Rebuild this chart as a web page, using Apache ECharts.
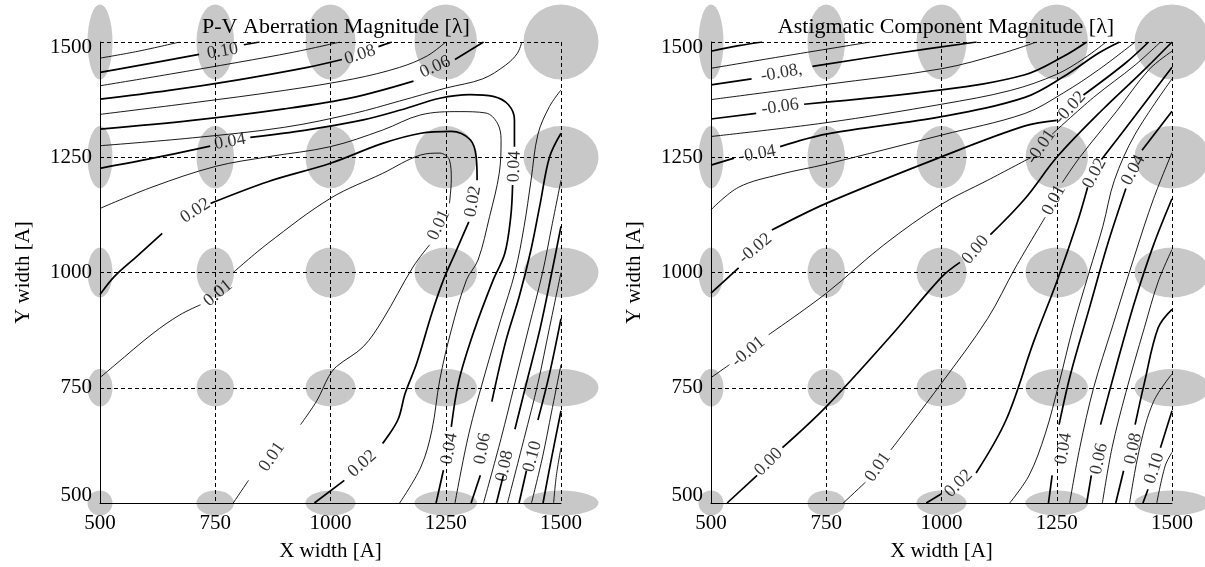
<!DOCTYPE html>
<html>
<head>
<meta charset="utf-8">
<script src="https://cdn.jsdelivr.net/npm/echarts@6/dist/echarts.min.js"></script>
<style>
  html, body { margin: 0; background: #fff; }
  #main { width: 1205px; height: 567px; }
</style>
</head>
<body>
<div id="main"></div>
<script>
// grid of simulated points (X width, Y width)
const xTicks = [500, 750, 1000, 1250, 1500];
const yTicks = [500, 750, 1000, 1250, 1500];

// P-V aberration contours: [level, [segments]]  (segments break where a label sits)
const pvLines = [
  [0.11, [[[500,1465],[583,1480],[673,1500]]]],
  [0.10, [[[500,1434],[561,1445],[633,1458],[715,1473]], [[812,1494],[846,1500]]]],
  [0.09, [[[500,1405],[650,1430],[800,1456],[920,1478],[1021,1500]]]],
  [0.08, [[[500,1376],[650,1395],[800,1418],[950,1445],[1025,1462]], [[1104,1490],[1133,1500]]]],
  [0.07, [[[500,1343],[700,1368],[900,1395],[1050,1420],[1150,1445],[1210,1470],[1250,1500]]]],
  [0.06, [[[500,1311],[700,1330],[900,1355],[1050,1380],[1180,1415]], [[1270,1462],[1332,1500]]]],
  [0.05, [[[500,1275],[700,1292],[900,1315],[1050,1345],[1150,1372],[1250,1400],[1330,1420],[1380,1450],[1405,1475],[1415,1500]]]],
  [0.04, [[[500,1226],[615,1248],[739,1274]],
          [[826,1293],[947,1309],[1071,1331],[1154,1353],[1237,1378],[1303,1386],[1353,1382],[1386,1364],[1399,1331],[1399,1273]],
          [[1395,1190],[1391,1121],[1378,1041],[1353,984],[1312,875],[1279,767],[1262,665]],
          [[1245,571],[1229,500]]]],
  [0.03, [[[500,1139],[615,1186],[750,1230],[864,1251],[1000,1273],[1113,1309],[1196,1342],[1279,1349],[1337,1346],[1362,1324],[1370,1288],[1366,1215],[1345,1121],[1320,1027],[1295,984],[1262,875],[1237,767],[1220,658],[1196,578],[1150,500]]]],
  [0.02, [[[500,952],[531,991],[580,1035],[635,1085]],
          [[740,1150],[864,1197],[1000,1237],[1113,1280],[1196,1302],[1262,1306],[1303,1288],[1316,1251],[1318,1200]],
          [[1300,1110],[1270,1041],[1245,984],[1220,912],[1187,803],[1162,738],[1146,680],[1113,629]],
          [[1030,549],[965,500]]]],
  [0.01, [[[500,772],[532,799],[615,868],[673,908],[718,930]],
          [[789,1000],[864,1063],[1000,1161],[1113,1215],[1196,1255],[1237,1259],[1258,1244],[1262,1201],[1258,1150]],
          [[1215,1060],[1179,1012],[1113,897],[1071,839],[1013,796],[996,774],[971,723],[935,670]],
          [[822,549],[789,500]]]],
  [0.05, [[[1500,1396],[1475,1360],[1450,1300],[1435,1200],[1420,1100],[1400,1000],[1370,900],[1335,780],[1300,650],[1270,500]]]],
  [0.06, [[[1500,1302],[1475,1250],[1455,1150],[1435,1050],[1410,950],[1380,850],[1350,720]], [[1325,560],[1305,500]]]],
  [0.07, [[[1500,1200],[1480,1100],[1460,1000],[1430,880],[1400,760],[1370,640],[1332,500]]]],
  [0.08, [[[1500,1100],[1480,1000],[1455,880],[1425,760],[1400,660]], [[1375,560],[1360,500]]]],
  [0.09, [[[1500,1000],[1475,880],[1450,760],[1420,640],[1384,500]]]],
  [0.10, [[[1500,900],[1475,780],[1450,680]], [[1425,570],[1409,500]]]],
  [0.11, [[[1500,800],[1480,700],[1460,600],[1436,500]]]],
  [0.12, [[[1500,700],[1480,600],[1461,500]]]],
  [0.13, [[[1500,620],[1490,560],[1484,500]]]]
];
// [x, y, text, angle]
const pvLabels = [
  [766,1480,'0.10',10], [1064,1472,'0.08',18], [1227,1446,'0.06',24], [782,1284,'0.04',10],
  [1399,1230,'0.04',88], [707,1134,'0.02',33], [1309,1154,'0.02',80], [1069,585,'0.02',42],
  [756,955,'0.01',40], [1235,1103,'0.01',65], [873,600,'0.01',55],
  [1258,618,'0.04',80], [1330,618,'0.06',80], [1378,580,'0.08',78], [1438,601,'0.10',75]
];

// Astigmatic component contours
const asLines = [
  [-0.10, [[[500,1480],[560,1492],[611,1500]]]],
  [-0.09, [[[500,1443],[650,1468],[846,1500]]]],
  [-0.08, [[[500,1407],[588,1420]], [[720,1447],[900,1475],[1076,1500]]]],
  [-0.07, [[[500,1375],[750,1408],[1000,1442],[1130,1475],[1206,1500]]]],
  [-0.06, [[[500,1333],[598,1345]], [[702,1365],[1000,1396],[1181,1429],[1265,1469],[1315,1500]]]],
  [-0.05, [[[500,1295],[750,1325],[1000,1365],[1150,1395],[1250,1430],[1310,1465],[1357,1500]]]],
  [-0.04, [[[500,1233],[550,1248]], [[650,1273],[750,1300],[1000,1338],[1181,1380],[1265,1425],[1341,1476],[1386,1500]]]],
  [-0.03, [[[500,1136],[560,1185],[650,1213],[750,1235],[1000,1298],[1181,1345],[1265,1390],[1341,1440],[1420,1500]]]],
  [-0.02, [[[500,955],[560,1010]], [[632,1092],[750,1150],[1000,1251],[1181,1318],[1250,1330]], [[1308,1385],[1400,1455],[1449,1500]]]],
  [-0.01, [[[500,772],[540,800]], [[625,865],[750,955],[875,1060],[1000,1148],[1100,1200],[1195,1250]], [[1240,1300],[1330,1380],[1420,1450],[1475,1500]]]],
  [0.00, [[[535,500],[600,560]], [[655,620],[750,709],[888,860],[1000,990],[1040,1022]], [[1106,1082],[1181,1160],[1251,1251],[1349,1353],[1433,1433],[1500,1500]]]],
  [0.01, [[[787,500],[835,545]], [[890,615],[1000,760],[1100,900],[1160,1010],[1225,1120]], [[1262,1195],[1300,1250],[1380,1350],[1450,1440],[1500,1480]]]],
  [0.02, [[[967,500],[1000,520]], [[1075,565],[1140,680],[1200,850],[1250,980],[1295,1110],[1317,1185]], [[1347,1245],[1420,1340],[1500,1445]]]],
  [0.03, [[[1148,500],[1190,560],[1225,650],[1255,760],[1285,880],[1320,1000],[1350,1100],[1375,1200],[1420,1300],[1500,1420]]]],
  [0.04, [[[1232,500],[1240,560]], [[1255,670],[1280,780],[1320,920],[1360,1060],[1400,1182]], [[1435,1265],[1500,1350]]]],
  [0.05, [[[1278,500],[1300,620],[1330,750],[1370,880],[1420,1040],[1460,1160],[1500,1260]]]],
  [0.06, [[[1315,500],[1325,560]], [[1345,670],[1380,800],[1420,940],[1460,1060],[1500,1160]]]],
  [0.07, [[[1349,500],[1370,620],[1400,740],[1440,880],[1470,980],[1500,1050]]]],
  [0.08, [[[1378,500],[1395,570]], [[1420,670],[1440,760],[1470,880],[1500,920]]]],
  [0.09, [[[1408,500],[1430,620],[1460,720],[1500,780]]]],
  [0.10, [[[1437,500],[1448,530]], [[1475,620],[1500,700]]]],
  [0.11, [[[1467,500],[1485,580],[1500,610]]]]
];
const asLabels = [
  [653,1433,'-0.08,',10], [650,1359,'-0.06',8], [600,1257,'-0.04',10], [596,1052,'-0.02',40],
  [1279,1357,'-0.02',48], [581,828,'-0.01',40], [1216,1273,'-0.01',55], [625,589,'0.00',45],
  [1074,1049,'0.00',50], [862,578,'0.01',55], [1244,1157,'0.01',62], [1037,542,'0.02',45],
  [1332,1215,'0.02',62], [1416,1222,'0.04',62], [1265,618,'0.04',80], [1342,596,'0.06',78],
  [1416,618,'0.08',78], [1462,575,'0.10',72]
];

const font = 'Liberation Serif';
const chart = echarts.init(document.getElementById('main'));

const ellipsePts = [];
for (const x of xTicks) for (const y of yTicks) ellipsePts.push([x, y]);

function contourSeries(lines, idx) {
  const out = [];
  lines.forEach(([lvl, segs]) => {
    const thick = Math.round(lvl * 100) % 2 === 0;
    segs.forEach(seg => {
      out.push({
        type: 'line', xAxisIndex: idx, yAxisIndex: idx, data: seg,
        smooth: 0.35, symbol: 'none', silent: true, z: 5,
        lineStyle: { color: '#000', width: thick ? 1.7 : 0.9 }
      });
    });
  });
  return out;
}

function labelSeries(labels, idx) {
  return {
    type: 'scatter', xAxisIndex: idx, yAxisIndex: idx, symbolSize: 0, z: 6, silent: true,
    label: { show: true, position: 'inside', fontFamily: font, fontSize: 18, color: '#000' },
    data: labels.map(([x, y, t, r]) => ({ value: [x, y], label: { formatter: t, rotate: r } }))
  };
}

function ellipseSeries(idx) {
  return {
    type: 'scatter', xAxisIndex: idx, yAxisIndex: idx, data: ellipsePts, clip: false,
    symbol: 'circle', symbolSize: v => [v[0] * 0.05, v[1] * 0.05],
    itemStyle: { color: '#c8c8c8', opacity: 1 }, z: 1, silent: true
  };
}

const tickText = { fontFamily: font, fontSize: 21, color: '#000' };

function axis(idx, dim) {
  const a = {
    type: 'value', gridIndex: idx, min: 500, max: 1500, interval: 250, z: 3,
    name: dim === 'x' ? 'X width [A]' : 'Y width [A]',
    nameLocation: 'middle', nameGap: dim === 'x' ? 38 : 66,
    nameTextStyle: { fontFamily: font, fontSize: 21, color: '#000' },
    axisLine: { show: true, onZero: false, lineStyle: { color: '#000', width: 1 } },
    axisTick: { show: false },
    axisLabel: Object.assign({}, tickText, { margin: dim === 'x' ? 10 : 8, formatter: v => String(v) }),
    splitLine: { show: true, lineStyle: { color: '#000', width: 1, type: [4, 3] } }
  };
  if (dim === 'y') {
    a.nameRotate = 90;
    // end labels sit slightly inside the frame, as in the original
    a.axisLabel.formatter = v => v === 1500 ? '{hi|1500}' : v === 500 ? '{lo|500}' : String(v);
    a.axisLabel.rich = {
      hi: Object.assign({ padding: [11, 0, 0, 0] }, tickText),
      lo: Object.assign({ padding: [0, 0, 15, 0] }, tickText)
    };
  }
  return a;
}

const titleStyle = { fontFamily: font, fontSize: 22, fontWeight: 'normal', color: '#000' };

chart.setOption({
  animation: false,
  backgroundColor: '#fff',
  title: [
    { text: 'P-V Aberration Magnitude [λ]', left: 331, top: 11, textAlign: 'center', textStyle: titleStyle },
    { text: 'Astigmatic Component Magnitude [λ]', left: 941, top: 11, textAlign: 'center', textStyle: titleStyle }
  ],
  grid: [
    { left: 100, top: 42, width: 461, height: 461 },
    { left: 711, top: 42, width: 461, height: 461 }
  ],
  xAxis: [axis(0, 'x'), axis(1, 'x')],
  yAxis: [axis(0, 'y'), axis(1, 'y')],
  series: [
    ellipseSeries(0), ellipseSeries(1),
    ...contourSeries(pvLines, 0), ...contourSeries(asLines, 1),
    labelSeries(pvLabels, 0), labelSeries(asLabels, 1)
  ]
});
</script>
</body>
</html>
